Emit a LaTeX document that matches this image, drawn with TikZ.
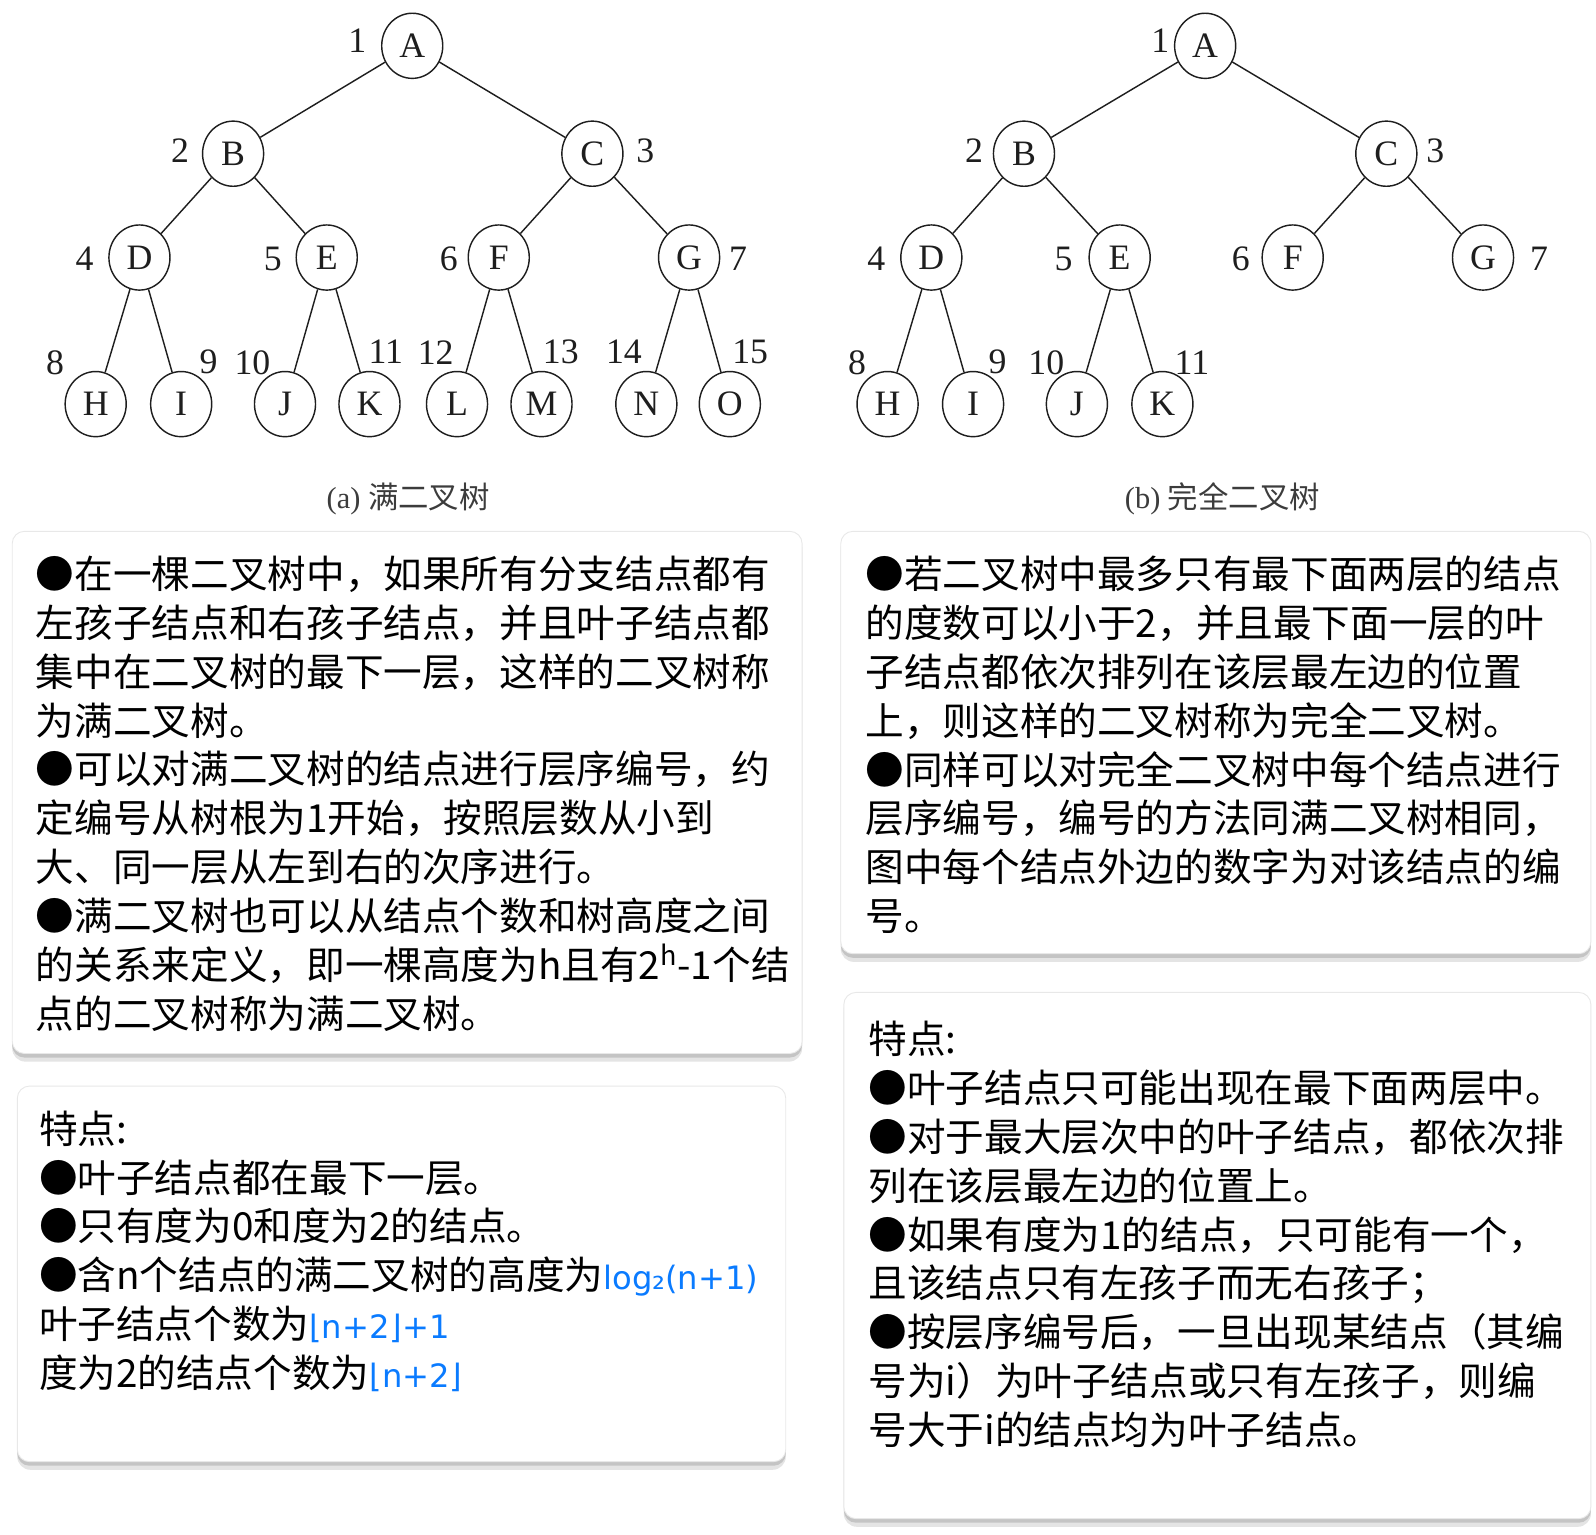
\documentclass[tikz,border=0pt]{standalone}
\usepackage{fontspec}
\setmainfont{Liberation Serif}
\newfontfamily\cjk{Noto Sans CJK SC}
\newfontfamily\formula{DejaVu Sans}
\usetikzlibrary{shapes.geometric}
\definecolor{bg}{HTML}{FFFFFF}
\definecolor{ink}{HTML}{1E1E1E}
\definecolor{capgray}{HTML}{3C3C3C}
\definecolor{formblue}{HTML}{0A7BFF}
\definecolor{shade}{HTML}{C4C4C4}
\definecolor{shadelt}{HTML}{E4E4E4}
\definecolor{cardedge}{HTML}{E8E8E8}

\begin{document}
\begin{tikzpicture}[x=0.02cm,y=-0.02cm,
  tnode/.style={ellipse,draw=ink,line width=0.8pt,inner sep=0pt,minimum width=1.2cm,minimum height=1.28cm,text=ink,font=\fontsize{20pt}{24pt}\selectfont},
  num/.style={inner sep=0pt,text=ink,font=\fontsize{20pt}{24pt}\selectfont},
  branch/.style={draw=ink,line width=0.8pt},
  capt/.style={inner sep=0pt,text=capgray,font=\fontsize{17pt}{20pt}\selectfont},
  card/.style={fill=white,draw=cardedge,line width=0.5pt,rounded corners=0.24cm},
  cardshadow/.style={fill=shade,rounded corners=0.24cm},
  cardhalo/.style={fill=shadelt,rounded corners=0.26cm},
  para/.style={anchor=north west,inner sep=0pt,align=left,text=black,font=\cjk\fontsize{21.6pt}{27.3pt}\selectfont},
  blue/.style={}]
  \fill[bg] (0,0) rectangle (1568,1508);
  \useasboundingbox (0,0) rectangle (1568,1508);

  % ===== (a) full binary tree =====
  \node[tnode] (aA) at (405,45) {A};
  \node[tnode] (aB) at (229,151) {B};
  \node[tnode] (aC) at (582,151) {C};
  \node[tnode] (aD) at (137,253) {D};
  \node[tnode] (aE) at (321,253) {E};
  \node[tnode] (aF) at (490,253) {F};
  \node[tnode] (aG) at (677,253) {G};
  \node[tnode] (aH) at (94,397) {H};
  \node[tnode] (aI) at (178,397) {I};
  \node[tnode] (aJ) at (280,397) {J};
  \node[tnode] (aK) at (363,397) {K};
  \node[tnode] (aL) at (449,397) {L};
  \node[tnode] (aM) at (532,397) {M};
  \node[tnode] (aN) at (635,397) {N};
  \node[tnode] (aO) at (717,397) {O};
  \draw[branch] (aA) -- (aB) (aA) -- (aC);
  \draw[branch] (aB) -- (aD) (aB) -- (aE) (aC) -- (aF) (aC) -- (aG);
  \draw[branch] (aD) -- (aH) (aD) -- (aI) (aE) -- (aJ) (aE) -- (aK);
  \draw[branch] (aF) -- (aL) (aF) -- (aM) (aG) -- (aN) (aG) -- (aO);
  % level numbers
  \node[num] (na1) at (351,40) {1};
  \node[num] (na2) at (177,148) {2};
  \node[num] (na3) at (634,148) {3};
  \node[num] (na4) at (83,254) {4};
  \node[num] (na5) at (268,254) {5};
  \node[num] (na6) at (441,254) {6};
  \node[num] (na7) at (725,254) {7};
  \node[num] (na8) at (54,356) {8};
  \node[num] (na9) at (205,355) {9};
  \node[num] (na10) at (248,356) {10};
  \node[num] (na11) at (379,346) {11};
  \node[num] (na12) at (428,346) {12};
  \node[num] (na13) at (551,346) {13};
  \node[num] (na14) at (613,346) {14};
  \node[num] (na15) at (737,346) {15};
  \node[capt] (capA) at (401,490) {(a) {\cjk 满二叉树}};

  % ===== (b) complete binary tree =====
  \node[tnode] (bA) at (1184,45) {A};
  \node[tnode] (bB) at (1006,151) {B};
  \node[tnode] (bC) at (1362,151) {C};
  \node[tnode] (bD) at (915,253) {D};
  \node[tnode] (bE) at (1100,253) {E};
  \node[tnode] (bF) at (1270,253) {F};
  \node[tnode] (bG) at (1457,253) {G};
  \node[tnode] (bH) at (872,397) {H};
  \node[tnode] (bI) at (956,397) {I};
  \node[tnode] (bJ) at (1058,397) {J};
  \node[tnode] (bK) at (1142,397) {K};
  \draw[branch] (bA) -- (bB) (bA) -- (bC);
  \draw[branch] (bB) -- (bD) (bB) -- (bE) (bC) -- (bF) (bC) -- (bG);
  \draw[branch] (bD) -- (bH) (bD) -- (bI) (bE) -- (bJ) (bE) -- (bK);
  \node[num] (nb1) at (1140,40) {1};
  \node[num] (nb2) at (957,148) {2};
  \node[num] (nb3) at (1410,148) {3};
  \node[num] (nb4) at (861,254) {4};
  \node[num] (nb5) at (1045,254) {5};
  \node[num] (nb6) at (1219,254) {6};
  \node[num] (nb7) at (1512,254) {7};
  \node[num] (nb8) at (842,356) {8};
  \node[num] (nb9) at (980,355) {9};
  \node[num] (nb10) at (1028,356) {10};
  \node[num] (nb11) at (1171,356) {11};
  \node[capt] (capB) at (1201,490) {(b) {\cjk 完全二叉树}};

  % ===== cards =====
  \path[cardhalo] (12,530) rectangle (788,1043);
  \path[cardshadow] (12,526) rectangle (788,1039);
  \path[card] (12,522) rectangle (788,1035);
  \path[cardhalo] (826,530) rectangle (1563,945);
  \path[cardshadow] (826,526) rectangle (1563,941);
  \path[card] (826,522) rectangle (1563,937);
  \path[cardhalo] (17,1075) rectangle (772,1444);
  \path[cardshadow] (17,1071) rectangle (772,1440);
  \path[card] (17,1067) rectangle (772,1436);
  \path[cardhalo] (829,983) rectangle (1563,1500);
  \path[cardshadow] (829,979) rectangle (1563,1496);
  \path[card] (829,975) rectangle (1563,1492);

  % ===== card texts =====
  \node[para] (txtFull) at (35,546) {%
    ●在一棵二叉树中，如果所有分支结点都有\\
    左孩子结点和右孩子结点，并且叶子结点都\\
    集中在二叉树的最下一层，这样的二叉树称\\
    为满二叉树。\\
    ●可以对满二叉树的结点进行层序编号，约\\
    定编号从树根为1开始，按照层数从小到\\
    大、同一层从左到右的次序进行。\\
    ●满二叉树也可以从结点个数和树高度之间\\
    的关系来定义，即一棵高度为h且有2\textsuperscript{h}-1个结\\
    点的二叉树称为满二叉树。};
  \node[para] (txtComplete) at (850,546) {%
    ●若二叉树中最多只有最下面两层的结点\\
    的度数可以小于2，并且最下面一层的叶\\
    子结点都依次排列在该层最左边的位置\\
    上，则这样的二叉树称为完全二叉树。\\
    ●同样可以对完全二叉树中每个结点进行\\
    层序编号，编号的方法同满二叉树相同，\\
    图中每个结点外边的数字为对该结点的编\\
    号。};
  \node[para] (txtFullFeat) at (38,1091) {%
    特点:\\
    ●叶子结点都在最下一层。\\
    ●只有度为0和度为2的结点。\\
    ●含n个结点的满二叉树的高度为{\color{formblue}\formula\fontsize{18pt}{27.3pt}\selectfont log₂(n+1)}\\
    叶子结点个数为{\color{formblue}\formula\fontsize{18pt}{27.3pt}\selectfont ⌊n+2⌋+1}\\
    度为2的结点个数为{\color{formblue}\formula\fontsize{18pt}{27.3pt}\selectfont ⌊n+2⌋}};
  \node[para] (txtCompFeat) at (853,1003) {%
    特点:\\
    ●叶子结点只可能出现在最下面两层中。\\
    ●对于最大层次中的叶子结点，都依次排\\
    列在该层最左边的位置上。\\
    ●如果有度为1的结点，只可能有一个，\\
    且该结点只有左孩子而无右孩子；\\
    ●按层序编号后，一旦出现某结点（其编\\
    号为i）为叶子结点或只有左孩子，则编\\
    号大于i的结点均为叶子结点。};
\end{tikzpicture}
\end{document}
